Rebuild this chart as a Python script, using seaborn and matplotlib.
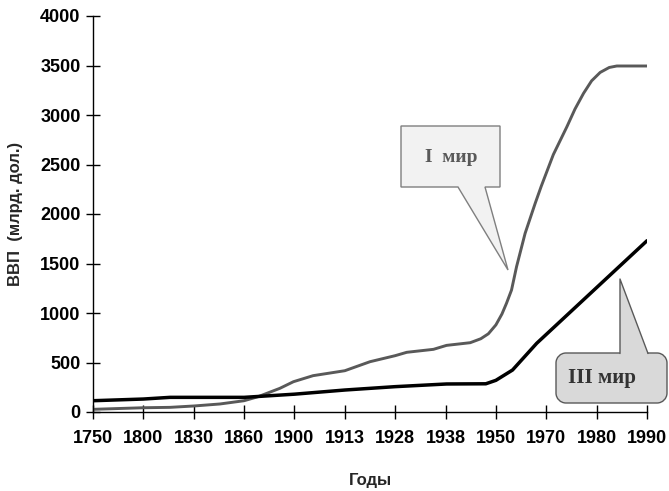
import numpy as np
import pandas as pd
import matplotlib
matplotlib.use("Agg")
import matplotlib.pyplot as plt
from matplotlib.patches import Polygon, PathPatch
from matplotlib.path import Path
from matplotlib.lines import Line2D
import seaborn as sns

# ---- data ----
year_labels = ["1750", "1800", "1830", "1860", "1900", "1913", "1928",
               "1938", "1950", "1970", "1980", "1990"]

# position on the category axis (0 = 1750 ... 11 = 1990) and GDP values
first_world_pos = [0.00, 1.00, 1.53, 2.01, 2.52, 3.00, 3.28, 3.71, 3.98, 4.37,
                   5.00, 5.50, 6.00, 6.23, 6.76, 7.02, 7.49, 7.70, 7.85, 8.00,
                   8.12, 8.21, 8.31, 8.41, 8.58, 8.78, 8.90, 9.14, 9.41, 9.57,
                   9.74, 9.90, 10.07, 10.25, 10.40, 11.00]
first_world_gdp = [27, 43, 47, 61, 81, 114, 155, 239, 306, 367,
                   417, 508, 569, 603, 633, 673, 700, 740, 790, 880,
                   990, 1098, 1232, 1468, 1805, 2108, 2280, 2600, 2882, 3060,
                   3219, 3345, 3430, 3480, 3495, 3495]

third_world_pos = [0.00, 1.00, 1.53, 3.00, 4.00, 5.00, 6.00, 7.02, 7.80,
                   8.00, 8.33, 8.81, 11.00]
third_world_gdp = [114, 131, 148, 148, 180, 222, 256, 283, 285,
                   320, 424, 694, 1730]

y_ticks = [0, 500, 1000, 1500, 2000, 2500, 3000, 3500, 4000]

# ---- style ----
sns.set_theme(style="white")
plt.rcParams["font.family"] = ["Liberation Sans", "DejaVu Sans"]

W, H = 669, 491
fig = plt.figure(figsize=(W / 100, H / 100), dpi=100)
ax = fig.add_axes([93 / W, 1 - 412 / H, (647 - 93) / W, (412 - 16) / H])

df1 = pd.DataFrame({"pos": first_world_pos, "gdp": first_world_gdp})
df3 = pd.DataFrame({"pos": third_world_pos, "gdp": third_world_gdp})

sns.lineplot(data=df1, x="pos", y="gdp", ax=ax, color="#595959",
             linewidth=2.1, sort=False, estimator=None)
sns.lineplot(data=df3, x="pos", y="gdp", ax=ax, color="black",
             linewidth=2.5, sort=False, estimator=None)

ax.set_xlim(0, len(year_labels) - 1)
ax.set_ylim(0, 4000)
ax.set_xticks(range(len(year_labels)))
ax.set_xticklabels(year_labels)
ax.set_yticks(y_ticks)
ax.set_yticklabels([str(v) for v in y_ticks])

for s in ["top", "right"]:
    ax.spines[s].set_visible(False)
for s in ["left", "bottom"]:
    ax.spines[s].set_color("black")
    ax.spines[s].set_linewidth(1.0)

ax.tick_params(axis="both", direction="inout", length=10, width=1,
               color="black", labelsize=13, labelcolor="black",
               bottom=True, left=True)
ax.tick_params(axis="x", pad=8)
ax.tick_params(axis="y", pad=4)
for lab in ax.get_xticklabels() + ax.get_yticklabels():
    lab.set_fontweight("bold")

ax.set_xlabel("Годы", fontsize=12, fontweight="bold", labelpad=19)
ax.set_ylabel("ВВП  (млрд. дол.)", fontsize=12, fontweight="bold", labelpad=12)


# ---- callouts (figure pixel coordinates) ----
def fp(px, py):
    return (px / W, 1 - py / H)


callout1 = [fp(401, 126), fp(500, 126), fp(500, 187), fp(485, 187),
            fp(508, 270), fp(458, 187), fp(401, 187)]
fig.patches.append(Polygon(callout1, closed=True, transform=fig.transFigure,
                           facecolor="#f2f2f2", edgecolor="#7f7f7f",
                           linewidth=1.0, zorder=5))
fig.text(451 / W, 1 - 158 / H, "I  мир", transform=fig.transFigure,
         ha="center", va="center", fontsize=14, fontweight="bold",
         color="#595959", family=["Liberation Serif", "DejaVu Serif"], zorder=6)

rad = 10
bx0, by0, bx1, by1 = 556, 353, 667, 403
k = 0.5523
verts = [
    (bx0 + rad, by0), (bx1 - rad, by0),
    (bx1 - rad + k * rad, by0), (bx1, by0 + rad - k * rad), (bx1, by0 + rad),
    (bx1, by1 - rad),
    (bx1, by1 - rad + k * rad), (bx1 - rad + k * rad, by1), (bx1 - rad, by1),
    (bx0 + rad, by1),
    (bx0 + rad - k * rad, by1), (bx0, by1 - rad + k * rad), (bx0, by1 - rad),
    (bx0, by0 + rad),
    (bx0, by0 + rad - k * rad), (bx0 + rad - k * rad, by0), (bx0 + rad, by0),
    (bx0 + rad, by0),
]
codes = [Path.MOVETO, Path.LINETO,
         Path.CURVE4, Path.CURVE4, Path.CURVE4,
         Path.LINETO,
         Path.CURVE4, Path.CURVE4, Path.CURVE4,
         Path.LINETO,
         Path.CURVE4, Path.CURVE4, Path.CURVE4,
         Path.LINETO,
         Path.CURVE4, Path.CURVE4, Path.CURVE4,
         Path.CLOSEPOLY]
verts_f = [fp(vx, vy) for vx, vy in verts]
fig.patches.append(PathPatch(Path(verts_f, codes), transform=fig.transFigure,
                             facecolor="#d9d9d9", edgecolor="#595959",
                             linewidth=1.0, zorder=5))
pointer = [fp(620, 355), fp(620, 279), fp(648, 355)]
fig.patches.append(Polygon(pointer, closed=True, transform=fig.transFigure,
                           facecolor="#d9d9d9", edgecolor="none", zorder=6))
fig.lines.append(Line2D([620 / W, 620 / W, 648 / W],
                        [1 - 353.5 / H, 1 - 279 / H, 1 - 353.5 / H],
                        transform=fig.transFigure, color="#595959",
                        linewidth=1.0, zorder=7))
fig.text(602 / W, 1 - 378 / H, "III мир", transform=fig.transFigure,
         ha="center", va="center", fontsize=15, fontweight="bold",
         color="#333333", family=["Liberation Serif", "DejaVu Serif"], zorder=8)

fig.savefig("out.png", dpi=100)
